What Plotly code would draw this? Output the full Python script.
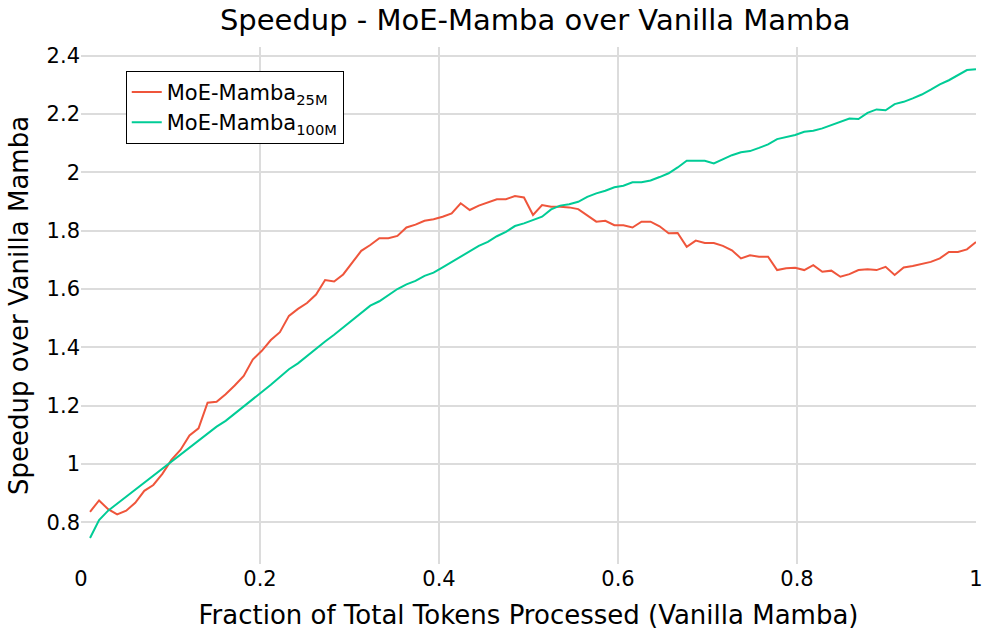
import plotly.graph_objs as go

# checkpoints (1..99 of 99) -> fraction of total tokens processed
checkpoints = list(range(1, 100))
fraction = [c / 99 for c in checkpoints]

speedup_25m = [
    0.836, 0.875, 0.845, 0.827, 0.840, 0.867, 0.908, 0.928, 0.966, 1.014,
    1.048, 1.098, 1.122, 1.210, 1.213, 1.239, 1.269, 1.302, 1.358, 1.388,
    1.425, 1.452, 1.508, 1.532, 1.552, 1.581, 1.631, 1.626, 1.650, 1.690,
    1.731, 1.751, 1.774, 1.774, 1.782, 1.811, 1.821, 1.834, 1.839, 1.848,
    1.859, 1.894, 1.871, 1.886, 1.897, 1.908, 1.908, 1.919, 1.914, 1.854,
    1.888, 1.882, 1.882, 1.880, 1.874, 1.851, 1.831, 1.834, 1.819, 1.819,
    1.811, 1.831, 1.831, 1.815, 1.791, 1.792, 1.745, 1.766, 1.758, 1.758,
    1.748, 1.733, 1.705, 1.716, 1.711, 1.711, 1.665, 1.671, 1.673, 1.665,
    1.682, 1.659, 1.663, 1.642, 1.651, 1.665, 1.668, 1.665, 1.676, 1.648,
    1.674, 1.679, 1.685, 1.693, 1.705, 1.727, 1.727, 1.736, 1.761,
]

speedup_100m = [
    0.746, 0.808, 0.840, 0.864, 0.888, 0.913, 0.937, 0.961, 0.985, 1.009,
    1.034, 1.058, 1.082, 1.106, 1.128, 1.148, 1.172, 1.197, 1.222, 1.247,
    1.272, 1.298, 1.325, 1.345, 1.370, 1.398, 1.420, 1.443, 1.468, 1.493,
    1.518, 1.543, 1.558, 1.580, 1.600, 1.616, 1.628, 1.645, 1.656, 1.674,
    1.693, 1.710, 1.731, 1.748, 1.762, 1.781, 1.796, 1.816, 1.825, 1.836,
    1.848, 1.873, 1.886, 1.891, 1.899, 1.916, 1.928, 1.937, 1.949, 1.954,
    1.966, 1.966, 1.972, 1.984, 1.997, 2.017, 2.040, 2.040, 2.040, 2.031,
    2.046, 2.059, 2.069, 2.073, 2.084, 2.096, 2.114, 2.120, 2.128, 2.139,
    2.143, 2.151, 2.162, 2.173, 2.185, 2.183, 2.204, 2.216, 2.213, 2.234,
    2.242, 2.254, 2.267, 2.284, 2.302, 2.316, 2.333, 2.351, 2.354,
]

FONT = '"DejaVu Sans", Arial, sans-serif'

fig = go.Figure()
fig.add_trace(go.Scatter(
    x=fraction, y=speedup_25m, mode='lines', name='MoE-Mamba<sub>25M</sub>',
    line=dict(color='#EF553B', width=2)
))
fig.add_trace(go.Scatter(
    x=fraction, y=speedup_100m, mode='lines', name='MoE-Mamba<sub>100M</sub>',
    line=dict(color='#00CC96', width=2)
))

fig.update_layout(
    width=982, height=632,
    margin=dict(l=81, r=6, t=47, b=68),
    paper_bgcolor='white', plot_bgcolor='white',
    font=dict(family=FONT, size=21, color='black'),
    title=dict(text='Speedup - MoE-Mamba over Vanilla Mamba', x=0.545, xanchor='center',
               y=0.968, yanchor='middle', font=dict(size=29)),
    legend=dict(x=0.05, y=0.954, xanchor='left', yanchor='top',
                bgcolor='white', bordercolor='black', borderwidth=1,
                itemwidth=30, tracegroupgap=4, font=dict(size=21)),
)
fig.update_xaxes(
    range=[0, 1], tickvals=[0, 0.2, 0.4, 0.6, 0.8, 1], ticktext=['0', '0.2', '0.4', '0.6', '0.8', '1'],
    showgrid=True, gridcolor='#dcdcdc', gridwidth=2, zeroline=False, showline=False,
    automargin=False, ticklabeloverflow='allow',
    title=dict(text='Fraction of Total Tokens Processed (Vanilla Mamba)', font=dict(size=26)),
)
fig.update_yaxes(
    range=[0.657, 2.43], tickvals=[0.8, 1, 1.2, 1.4, 1.6, 1.8, 2, 2.2, 2.4],
    ticktext=['0.8', '1', '1.2', '1.4', '1.6', '1.8', '2', '2.2', '2.4'],
    showgrid=True, gridcolor='#dcdcdc', gridwidth=2, zeroline=False, showline=False,
    automargin=False, ticklabeloverflow='allow',
    title=dict(text='Speedup over Vanilla Mamba', font=dict(size=26), standoff=10),
)

# the page body has an 8px default margin; drop it so the figure sits at the window corner
fig.write_html('out.html', config={'displayModeBar': False},
               post_script="document.body.style.margin = '0';")
